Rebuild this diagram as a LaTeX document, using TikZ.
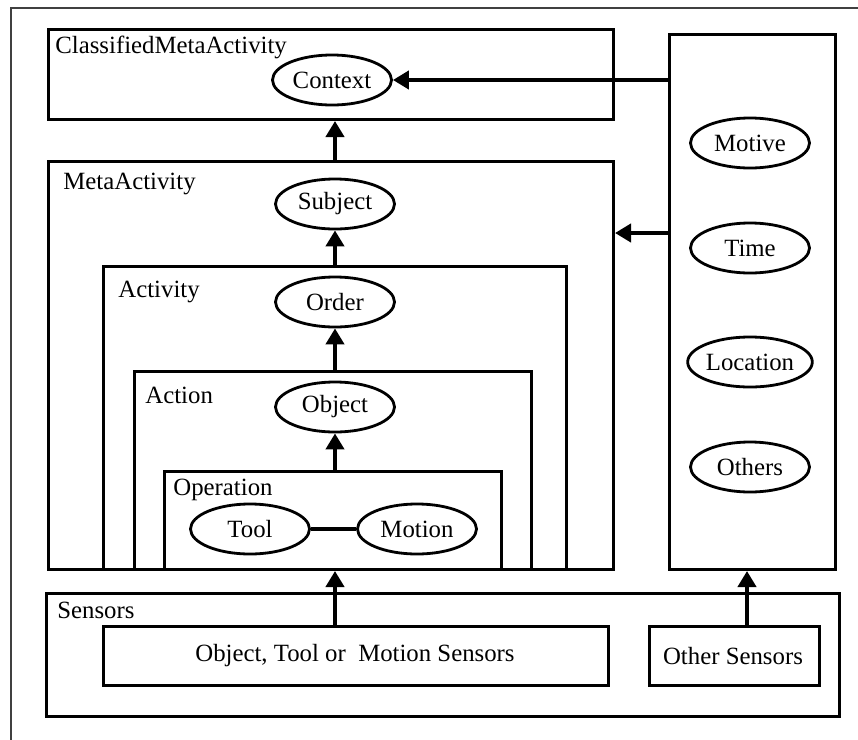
\documentclass[tikz,border=0pt]{standalone}
\usepackage{fontspec}
\setmainfont{Liberation Serif}
\usetikzlibrary{shapes.geometric,arrows.meta}
\begin{document}
\begin{tikzpicture}[x=0.5pt,y=-0.5pt,
 txt/.style={font=\fontsize{12.4}{14}\selectfont},
 box/.style={rectangle,draw,line width=1.5pt,inner sep=0pt,anchor=north west},
 oval/.style={ellipse,draw,line width=1.4pt,minimum width=59.5pt,minimum height=25pt,inner sep=0pt,txt},
 lbl/.style={anchor=base west,inner sep=0pt,txt},
 arr/.style={line width=2.2pt,-{Triangle[length=8pt,width=9pt]}},
 frame/.style={line width=1pt,draw=black!75},
]
\useasboundingbox (0,0) rectangle (858,740);
\draw[frame] (10.5,740) -- (10.5,8) -- (858,8);

% boxes
\node[box,minimum width=282.5pt,minimum height=45pt] (cma) at (47,28) {};
\node[box,minimum width=282.5pt,minimum height=204pt] (meta) at (47,160) {};
\node[box,minimum width=231.5pt,minimum height=151.5pt] (activity) at (102,265) {};
\node[box,minimum width=198.5pt,minimum height=99pt] (action) at (133,370) {};
\node[box,minimum width=168.5pt,minimum height=49pt] (operation) at (163,470) {};
\node[box,minimum width=83pt,minimum height=267.5pt] (ctxbox) at (668,33) {};
\node[box,minimum width=396.5pt,minimum height=61.5pt] (sensors) at (45,592) {};
\node[box,minimum width=252.5pt,minimum height=29.5pt,txt] (otm) at (102,625) {};
\node[box,minimum width=85pt,minimum height=29.5pt,txt] (oth) at (648,625) {};
\node[txt,inner sep=0pt] (otmtxt) at (355,656) {Object, Tool or\ \ Motion Sensors};
\node[txt,inner sep=0pt] (othtxt) at (733,656) {Other Sensors};

% labels
\node[lbl] (lcma) at (55,53) {ClassifiedMetaActivity};
\node[lbl] (lmeta) at (63,189) {MetaActivity};
\node[lbl] (lact) at (118,297) {Activity};
\node[lbl] (laction) at (145,403) {Action};
\node[lbl] (lop) at (173,495) {Operation};
\node[lbl] (lsens) at (57,618) {Sensors};

% ellipses
\node[oval] (context) at (332,80) {Context};
\node[oval] (subject) at (335,204) {Subject};
\node[oval] (order) at (335,302) {Order};
\node[oval] (object) at (335,407) {Object};
\node[oval] (tool) at (250,529) {Tool};
\node[oval] (motion) at (417,529) {Motion};
\node[oval] (motive) at (750,143) {Motive};
\node[oval] (time) at (750,248) {Time};
\node[oval] (location) at (750,362) {Location};
\node[oval] (others) at (750,467) {Others};

% connectors
\coordinate (mh) at (640,233);
\draw[arr] (ctxbox.west |- context) -- (context.east);
\draw[arr] (ctxbox.west |- mh) -- (meta.east |- mh);
\draw[arr] (meta.north -| subject) -- (cma.south -| subject);
\draw[arr] (activity.north -| subject) -- (subject);
\draw[arr] (action.north -| order) -- (order);
\draw[arr] (operation.north -| object) -- (object);
\draw[line width=2.4pt] (tool) -- (motion);
\draw[arr] (otm.north -| object) -- (operation.south -| object);
\draw[arr] (oth.north -| 747,0) -- (ctxbox.south -| 747,0);
\end{tikzpicture}
\end{document}
